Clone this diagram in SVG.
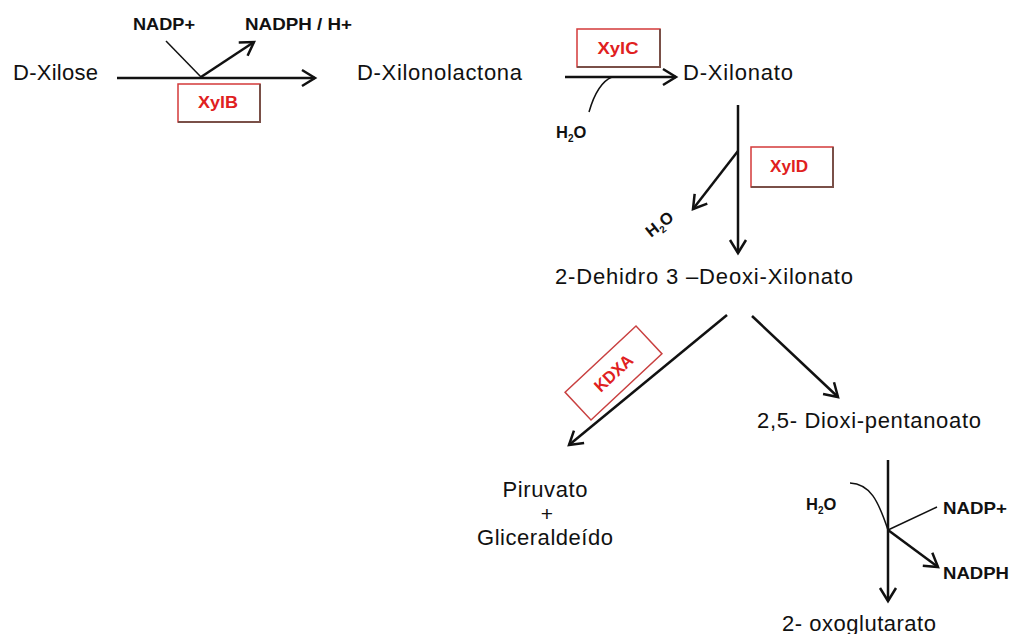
<svg xmlns="http://www.w3.org/2000/svg" width="1010" height="634" viewBox="0 0 1010 634">
<style>
.t{font-family:"Liberation Sans",Arial,sans-serif;font-size:22px;fill:#111}
.b{font-family:"Liberation Sans",Arial,sans-serif;font-size:16.5px;font-weight:bold;fill:#111}
.s{font-size:10px}
.e{font-family:"Liberation Sans",Arial,sans-serif;font-size:17px;font-weight:bold;fill:#e02020}
.box{fill:#fff;stroke:#d43a3a;stroke-width:1.5}
.sh{fill:none;stroke:#7a5048;stroke-width:2}
.m{fill:none;stroke:#111;stroke-width:2.5}
.th{fill:none;stroke:#111;stroke-width:1.5}
</style>
<defs>
<marker id="ah" markerUnits="userSpaceOnUse" markerWidth="30" markerHeight="30" refX="0" refY="0" orient="auto" overflow="visible">
<path d="M-13,-8 L0,0 L-13,8" fill="none" stroke="#111" stroke-width="2.5"/>
</marker>
</defs>
<g id="connectors">
<line class="m" x1="117" y1="78" x2="315" y2="78" marker-end="url(#ah)"/>
<line class="th" x1="166" y1="41" x2="201" y2="77"/>
<line class="m" x1="201" y1="77" x2="254" y2="42" marker-end="url(#ah)"/>
<line class="m" x1="565" y1="77" x2="676" y2="77" marker-end="url(#ah)"/>
<path class="th" d="M612,77 C600,82 593,98 589,112"/>
<line class="m" x1="738" y1="105" x2="738" y2="253" marker-end="url(#ah)"/>
<line class="m" x1="738" y1="151" x2="693" y2="209" marker-end="url(#ah)"/>
<line class="m" x1="727" y1="315" x2="569" y2="445" marker-end="url(#ah)"/>
<line class="m" x1="752" y1="316" x2="838" y2="397" marker-end="url(#ah)"/>
<line class="m" x1="888" y1="460" x2="888" y2="601" marker-end="url(#ah)"/>
<path class="th" d="M850,483 C870,484 878,500 888,530"/>
<line class="th" x1="888" y1="530" x2="937" y2="507"/>
<line class="m" x1="888" y1="530" x2="938" y2="567" marker-end="url(#ah)"/>
</g>
<g id="xylose"><text class="t" x="13" y="80" textLength="85" lengthAdjust="spacing">D-Xilose</text></g>
<g id="xylb">
<rect class="box" x="178" y="84" width="82" height="38"/>
<polyline class="sh" points="260,84 260,122 178,122"/>
<text class="e" x="218" y="108" text-anchor="middle" textLength="40" lengthAdjust="spacingAndGlyphs">XylB</text>
</g>
<g id="nadp1"><text class="b" x="133" y="30" textLength="62" lengthAdjust="spacingAndGlyphs">NADP+</text></g>
<g id="nadph1"><text class="b" x="245" y="30" textLength="107" lengthAdjust="spacingAndGlyphs">NADPH / H+</text></g>
<g id="xylonolactona"><text class="t" x="357" y="80" textLength="165" lengthAdjust="spacing">D-Xilonolactona</text></g>
<g id="xylc">
<rect class="box" x="577" y="29" width="83" height="38"/>
<polyline class="sh" points="660,29 660,67 577,67"/>
<text class="e" x="618" y="54" text-anchor="middle" textLength="41" lengthAdjust="spacingAndGlyphs">XylC</text>
</g>
<g id="h2o1"><text class="b" x="556" y="138">H<tspan class="s" dy="4">2</tspan><tspan dy="-4">O</tspan></text></g>
<g id="xylonato"><text class="t" x="683" y="80" textLength="110" lengthAdjust="spacing">D-Xilonato</text></g>
<g id="xyld">
<rect class="box" x="751" y="147" width="82" height="40"/>
<polyline class="sh" points="833,147 833,187 751,187"/>
<text class="e" x="789" y="172" text-anchor="middle" textLength="38" lengthAdjust="spacingAndGlyphs">XylD</text>
</g>
<g id="h2o2"><text class="b" transform="translate(651,238) rotate(-38)">H<tspan class="s" dy="4">2</tspan><tspan dy="-4">O</tspan></text></g>
<g id="dehidro"><text class="t" x="555" y="284" textLength="298" lengthAdjust="spacing">2-Dehidro 3 –Deoxi-Xilonato</text></g>
<g id="kdxa" transform="translate(613.5,373) rotate(-43)">
<rect x="-48.5" y="-19" width="97" height="38" fill="#fff" stroke="#c94040" stroke-width="1.5"/>
<text class="e" x="0" y="6" text-anchor="middle" textLength="46" lengthAdjust="spacingAndGlyphs">KDXA</text>
</g>
<g id="piruvato">
<text class="t" x="545" y="497" text-anchor="middle" textLength="85" lengthAdjust="spacing">Piruvato</text>
<text class="t" x="547" y="521" text-anchor="middle" style="font-size:21px">+</text>
<text class="t" x="477" y="545" textLength="136" lengthAdjust="spacing">Gliceraldeído</text>
</g>
<g id="dioxi"><text class="t" x="757" y="428" textLength="224" lengthAdjust="spacing">2,5- Dioxi-pentanoato</text></g>
<g id="h2o3"><text class="b" x="806" y="510">H<tspan class="s" dy="4">2</tspan><tspan dy="-4">O</tspan></text></g>
<g id="nadp2"><text class="b" x="943" y="514" textLength="64" lengthAdjust="spacingAndGlyphs">NADP+</text></g>
<g id="nadph2"><text class="b" x="943" y="579" textLength="66" lengthAdjust="spacingAndGlyphs">NADPH</text></g>
<g id="oxoglutarato"><text class="t" x="782" y="631" textLength="154" lengthAdjust="spacing">2- oxoglutarato</text></g>
</svg>
